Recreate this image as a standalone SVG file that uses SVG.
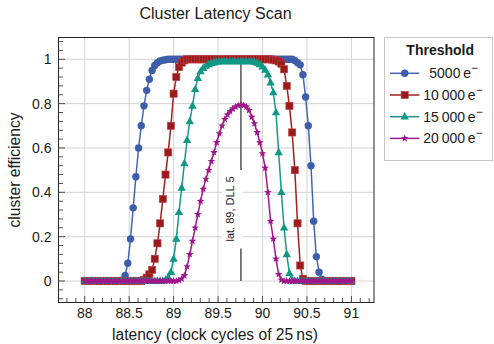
<svg xmlns="http://www.w3.org/2000/svg" width="494" height="344" viewBox="0 0 494 344">
  <style>
    text { font-family: "Liberation Sans", Arial, Helvetica, sans-serif; fill: #1a1a1a; }
    .grid { stroke: #d4d4d4; stroke-width: 1; fill: none; }
    .frame { fill: none; stroke: #262626; stroke-width: 1; }
    .ticks { stroke: #262626; stroke-width: 0.8; fill: none; }
    .tl { font-size: 14px; }
    .series { fill: none; stroke-width: 1.5; stroke-linejoin: round; }
    .s-blue { stroke: #4466b2; marker-start: url(#m-circle); marker-mid: url(#m-circle); marker-end: url(#m-circle); }
    .s-red { stroke: #a3201f; marker-start: url(#m-square); marker-mid: url(#m-square); marker-end: url(#m-square); }
    .s-green { stroke: #14998a; marker-start: url(#m-tri); marker-mid: url(#m-tri); marker-end: url(#m-tri); }
    .s-mag { stroke: #a5188f; marker-start: url(#m-star); marker-mid: url(#m-star); marker-end: url(#m-star); }
    .leg { fill: none; stroke-width: 1.5; }
    .lg-blue { stroke: #4466b2; marker-mid: url(#m-circle); }
    .lg-red { stroke: #a3201f; marker-mid: url(#m-square); }
    .lg-green { stroke: #14998a; marker-mid: url(#m-tri); }
    .lg-mag { stroke: #a5188f; marker-mid: url(#m-star); }
    .lt { font-size: 14px; }
  </style>
  <defs>
    <marker id="m-circle" markerUnits="userSpaceOnUse" markerWidth="10" markerHeight="10" viewBox="-5 -5 10 10" refX="0" refY="0" overflow="visible">
      <circle r="3.7" fill="#3c5eab"/>
    </marker>
    <marker id="m-square" markerUnits="userSpaceOnUse" markerWidth="10" markerHeight="10" viewBox="-5 -5 10 10" refX="0" refY="0" overflow="visible">
      <rect x="-3.6" y="-3.6" width="7.2" height="7.2" fill="#991b1b" stroke="#c24545" stroke-width="0.6"/>
    </marker>
    <marker id="m-tri" markerUnits="userSpaceOnUse" markerWidth="10" markerHeight="10" viewBox="-5 -5 10 10" refX="0" refY="0" overflow="visible">
      <path d="M0,-4.6L4.2,2.8L-4.2,2.8Z" fill="#109786"/>
    </marker>
    <marker id="m-star" markerUnits="userSpaceOnUse" markerWidth="10" markerHeight="10" viewBox="-5 -5 10 10" refX="0" refY="0" overflow="visible">
      <path d="M0,-4L1,-1.38L3.8,-1.24L1.62,0.53L2.35,3.24L0,1.7L-2.35,3.24L-1.62,0.53L-3.8,-1.24L-1,-1.38Z" fill="#a0168b"/>
    </marker>
  </defs>

  <rect width="494" height="344" fill="#ffffff"/>

  <!-- title -->
  <text x="215.5" y="18.5" font-size="16" text-anchor="middle">Cluster Latency Scan</text>

  <!-- grid -->
  <g id="grid" class="grid">
    <path d="M84.7,37.5V302.5M129.15,37.5V302.5M173.6,37.5V302.5M218.05,37.5V302.5M262.5,37.5V302.5M306.95,37.5V302.5M351.4,37.5V302.5"/>
    <path d="M58.5,281H374M58.5,236.66H374M58.5,192.32H374M58.5,147.98H374M58.5,103.64H374M58.5,59.3H374"/>
  </g>

  <!-- axes frame and ticks -->
  <g id="axes">
    <rect class="frame" x="58.5" y="37.5" width="315.5" height="265"/>
    <path class="ticks" d="M58.5,298.74h4.5M58.5,289.87h4.5M58.5,281h6.5M58.5,272.13h4.5M58.5,263.26h4.5M58.5,254.4h4.5M58.5,245.53h4.5M58.5,236.66h6.5M58.5,227.79h4.5M58.5,218.92h4.5M58.5,210.06h4.5M58.5,201.19h4.5M58.5,192.32h6.5M58.5,183.45h4.5M58.5,174.58h4.5M58.5,165.72h4.5M58.5,156.85h4.5M58.5,147.98h6.5M58.5,139.11h4.5M58.5,130.24h4.5M58.5,121.38h4.5M58.5,112.51h4.5M58.5,103.64h6.5M58.5,94.77h4.5M58.5,85.9h4.5M58.5,77.04h4.5M58.5,68.17h4.5M58.5,59.3h6.5M58.5,50.43h4.5M58.5,41.56h4.5"/>
    <path class="ticks" d="M66.92,302.5v-4.5M75.81,302.5v-4.5M84.7,302.5v-6.5M93.59,302.5v-4.5M102.48,302.5v-4.5M111.37,302.5v-4.5M120.26,302.5v-4.5M129.15,302.5v-6.5M138.04,302.5v-4.5M146.93,302.5v-4.5M155.82,302.5v-4.5M164.71,302.5v-4.5M173.6,302.5v-6.5M182.49,302.5v-4.5M191.38,302.5v-4.5M200.27,302.5v-4.5M209.16,302.5v-4.5M218.05,302.5v-6.5M226.94,302.5v-4.5M235.83,302.5v-4.5M244.72,302.5v-4.5M253.61,302.5v-4.5M262.5,302.5v-6.5M271.39,302.5v-4.5M280.28,302.5v-4.5M289.17,302.5v-4.5M298.06,302.5v-4.5M306.95,302.5v-6.5M315.84,302.5v-4.5M324.73,302.5v-4.5M333.62,302.5v-4.5M342.51,302.5v-4.5M351.4,302.5v-6.5M360.29,302.5v-4.5M369.18,302.5v-4.5"/>
    <g class="tl" text-anchor="middle">
      <text x="84.7" y="318">88</text>
      <text x="129.15" y="318">88.5</text>
      <text x="173.6" y="318">89</text>
      <text x="218.05" y="318">89.5</text>
      <text x="262.5" y="318">90</text>
      <text x="306.95" y="318">90.5</text>
      <text x="351.4" y="318">91</text>
    </g>
    <g class="tl" text-anchor="end">
      <text x="51.5" y="64.3">1</text>
      <text x="51.5" y="108.6">0.8</text>
      <text x="51.5" y="153">0.6</text>
      <text x="51.5" y="197.3">0.4</text>
      <text x="51.5" y="241.7">0.2</text>
      <text x="51.5" y="286">0</text>
    </g>
    <text x="215" y="339.5" font-size="15.6" text-anchor="middle">latency (clock cycles of 25&#8201;ns)</text>
    <text transform="translate(19.5,170) rotate(-90)" font-size="15.6" text-anchor="middle">cluster efficiency</text>
  </g>

  <!-- reference setting marker -->
  <g id="ref-setting">
    <line x1="240.95" y1="59.3" x2="240.95" y2="281" stroke="#444444" stroke-width="1.4"/>
    <rect x="222" y="170" width="21" height="78.5" fill="#ffffff"/>
    <text transform="translate(233.5,209) rotate(-90)" font-size="11" text-anchor="middle">lat. 89, DLL 5</text>
  </g>

  <!-- efficiency curves, one per threshold -->
  <g id="connectors">
    <path id="curve-5000" class="series s-blue" d="M84.7,281
      h2.694h2.694h2.694h2.694h2.694 h2.694h2.694h2.694h2.694h2.694 h2.694h2.694h2.694
      L122.42,279.89L125.11,275.46L127.8,263.26L130.5,238.88L133.19,207.84L135.89,176.8L138.58,147.98L141.27,125.81L143.97,105.86L146.66,90.34L149.36,79.25L152.05,70.39L154.74,65.51L157.44,62.63L160.13,61.07L162.83,60.19L165.52,59.74L168.21,59.3
      h2.694h2.694h2.694h2.694h2.694 h2.694h2.694h2.694h2.694h2.694 h2.694h2.694h2.694h2.694h2.694 h2.694h2.694h2.694h2.694h2.694 h2.694h2.694h2.694h2.694h2.694 h2.694h2.694h2.694h2.694h2.694 h2.694h2.694h2.694h2.694h2.694 h2.694h2.694h2.694h2.694h2.694 h2.694h2.694h2.694h2.694h2.694 h2.694
      L294.83,60.41L297.53,62.63L300.22,64.84L302.91,74.82L305.61,96.99L308.3,125.81L311,165.72L313.69,221.14L316.38,256.61L319.08,272.13L321.77,279.23L324.47,281
      h2.694h2.694h2.694h2.694h2.694 h2.694h2.694h2.694h2.694h2.694"/>
    <path id="curve-10000" class="series s-red" d="M84.7,281
      h2.694h2.694h2.694h2.694h2.694 h2.694h2.694h2.694h2.694h2.694 h2.694h2.694h2.694h2.694h2.694 h2.694h2.694h2.694h2.694h2.694 h2.694
      L143.97,279.89L146.66,277.67L149.36,274.35L152.05,269.92L154.74,258.83L157.44,243.31L160.13,223.36L162.83,198.97L165.52,174.58L168.21,152.41L170.91,125.81L173.6,93.66L176.3,77.04L178.99,67.06L181.68,62.63L184.38,60.41L187.07,59.3
      h2.694h2.694h2.694h2.694h2.694 h2.694h2.694h2.694h2.694h2.694 h2.694h2.694h2.694h2.694h2.694 h2.694h2.694h2.694h2.694h2.694 h2.694h2.694h2.694h2.694h2.694 h2.694h2.694h2.694h2.694h2.694 h2.694
      L273.28,59.74L275.97,60.41L278.67,61.52L281.36,63.73L284.06,69.28L286.75,85.9L289.44,105.86L292.14,132.46L294.83,170.15L297.53,223.36L300.22,265.48L302.91,278.78L305.61,281
      h2.694h2.694h2.694h2.694h2.694 h2.694h2.694h2.694h2.694h2.694 h2.694h2.694h2.694h2.694h2.694 h2.694h2.694"/>
    <path id="curve-15000" class="series s-green" d="M84.7,281
      h2.694h2.694h2.694h2.694h2.694 h2.694h2.694h2.694h2.694h2.694 h2.694h2.694h2.694h2.694h2.694 h2.694h2.694h2.694h2.694h2.694 h2.694h2.694h2.694h2.694h2.694 h2.694h2.694h2.694h2.694
      L165.52,279.89L168.21,277.67L170.91,272.13L173.6,258.83L176.3,238.88L178.99,212.27L181.68,187.89L184.38,163.5L187.07,140.22L189.77,121.38L192.46,105.86L195.15,89.23L197.85,78.14L200.54,71.49L203.24,68.17L205.93,65.95L208.62,64.4L211.32,63.29L214.01,62.63L216.71,61.96L219.4,61.52
      h2.694h2.694h2.694h2.694h2.694 h2.694h2.694h2.694h2.694h2.694 h2.694h2.694
      L254.42,61.96L257.12,62.85L259.81,64.4L262.5,66.61L265.2,69.94L267.89,74.82L270.59,82.58L273.28,92.56L275.97,112.51L278.67,152.41L281.36,192.32L284.06,227.79L286.75,254.4L289.44,273.24L292.14,279.89L294.83,281
      h2.694h2.694h2.694h2.694h2.694 h2.694h2.694h2.694h2.694h2.694 h2.694h2.694h2.694h2.694h2.694 h2.694h2.694h2.694h2.694h2.694 h2.694"/>
    <path id="curve-20000" class="series s-mag" d="M84.7,281
      h2.694h2.694h2.694h2.694h2.694 h2.694h2.694h2.694h2.694h2.694 h2.694h2.694h2.694h2.694h2.694 h2.694h2.694h2.694h2.694h2.694 h2.694h2.694h2.694h2.694h2.694 h2.694h2.694h2.694h2.694h2.694 h2.694h2.694h2.694h2.694
      L178.99,280.33L181.68,278.78L184.38,275.46L187.07,266.59L189.77,254.4L192.46,241.09L195.15,227.79L197.85,214.49L200.54,201.19L203.24,188.99L205.93,179.02L208.62,170.15L211.32,161.28L214.01,152.41L216.71,142.44L219.4,133.57L222.09,125.81L224.79,119.16L227.48,114.73L230.18,111.4L232.87,108.74L235.56,106.74L238.26,105.41L240.95,104.75L243.65,105.41L246.34,106.74L249.03,110.29L251.73,116.94L254.42,123.59L257.12,132.46L259.81,142.44L262.5,153.52L265.2,167.93L267.89,192.32L270.59,221.14L273.28,238.88L275.97,258.83L278.67,274.35L281.36,279.89L284.06,281
      h2.694h2.694h2.694h2.694h2.694 h2.694h2.694h2.694h2.694h2.694 h2.694h2.694h2.694h2.694h2.694 h2.694h2.694h2.694h2.694h2.694 h2.694h2.694h2.694h2.694h2.694"/>
  </g>

  <!-- legend -->
  <g id="legend">
    <rect x="384.5" y="37.5" width="108" height="123" fill="#ffffff" stroke="#c8c8c8"/>
    <text x="440.2" y="55" font-size="14" font-weight="bold" text-anchor="middle">Threshold</text>
    <path class="leg lg-blue" d="M390,73.3L404.7,73.3L419.3,73.3"/>
    <path class="leg lg-red" d="M390,95L404.7,95L419.3,95"/>
    <path class="leg lg-green" d="M390,116.7L404.7,116.7L419.3,116.7"/>
    <path class="leg lg-mag" d="M390,138.4L404.7,138.4L419.3,138.4"/>
    <text class="lt" x="429.3" y="78.3">5000&#8201;e<tspan dy="-6" font-size="12">&#8722;</tspan></text>
    <text class="lt" x="423.3" y="100">10&#8201;000&#8201;e<tspan dy="-6" font-size="12">&#8722;</tspan></text>
    <text class="lt" x="423.3" y="121.7">15&#8201;000&#8201;e<tspan dy="-6" font-size="12">&#8722;</tspan></text>
    <text class="lt" x="423.3" y="143.4">20&#8201;000&#8201;e<tspan dy="-6" font-size="12">&#8722;</tspan></text>
  </g>
</svg>
